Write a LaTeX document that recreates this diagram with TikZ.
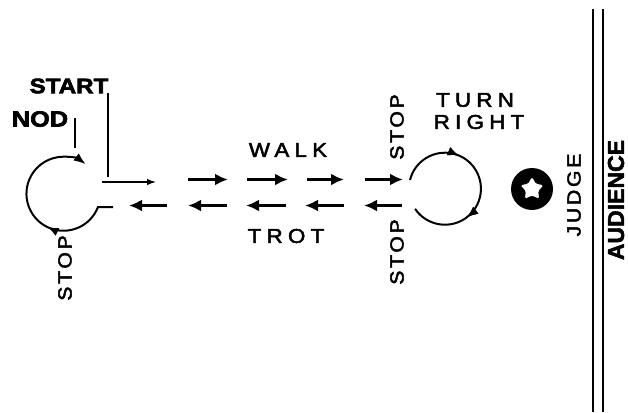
\documentclass[tikz,border=0pt]{standalone}
\usepackage{fontspec}
\setmainfont{Liberation Sans}
\newfontfamily\widefnt[FakeStretch=1.12,LetterSpace=26,FakeBold=2.5]{Liberation Sans}
\newfontfamily\vwidefnt[FakeStretch=1.12,LetterSpace=14,FakeBold=2.5]{Liberation Sans}
\newfontfamily\heavyfnt[FakeStretch=1.15,FakeBold=3]{Liberation Sans Bold}
\newfontfamily\heavyfntn[FakeBold=2]{Liberation Sans Bold}
\usetikzlibrary{arrows.meta,decorations.markings}
\begin{document}
\begin{tikzpicture}[x=1pt,y=-1pt,
  lbl/.style={inner sep=0pt, font=\fontsize{20}{20}\selectfont\widefnt},
  vlbl/.style={inner sep=0pt, rotate=90, font=\fontsize{19}{19}\selectfont\vwidefnt},
  boldlbl/.style={inner sep=0pt, font=\fontsize{21}{21}\selectfont\heavyfnt},
  thinline/.style={line width=1.2pt},
  bigarrow/.style={line width=3pt, -{Latex[length=13pt,width=12pt]}},
  smallarrow/.style={line width=1.3pt, -{Latex[length=9pt,width=6.5pt]}},
  loopline/.style={line width=2pt},
  midtip/.style={postaction={decorate}, decoration={markings,
     mark=at position #1 with {\arrow{Latex[length=11pt,width=9pt]}}}},
  wall/.style={line width=2.4pt},
]
\useasboundingbox (0,0) rectangle (628,412);

% texts
\node[boldlbl] (start) at (69,86) {START};
\node[boldlbl, font=\fontsize{22}{22}\selectfont\heavyfnt] (nod) at (40,119) {NOD};
\node[lbl] (walk) at (288,150) {WALK};
\node[lbl] (trot) at (286,236) {TROT};
\node[lbl] (turn) at (475,100) {TURN};
\node[lbl] (right) at (479,122) {RIGHT};
\node[vlbl] (stopl) at (65,268) {STOP};
\node[vlbl] (stopu) at (397,127) {STOP};
\node[vlbl] (stopd) at (397,252) {STOP};
\node[vlbl] (judgelbl) at (574,195) {JUDGE};
\node[inner sep=0pt, rotate=90, font=\fontsize{23}{23}\selectfont\heavyfntn] (aud) at (616,200) {AUDIENCE};

% leader lines
\coordinate (nodtop) at (75,118);
\coordinate (nodbot) at (75,148);
\draw[thinline] (nodtop) -- (nodbot);
\coordinate (starttop) at (108,93);
\coordinate (startbot) at (108,177);
\draw[thinline] (starttop) -- (startbot);

% first walk arrow (thin)
\coordinate (w0a) at (102,182);
\coordinate (w0b) at (156,182);
\draw[smallarrow] (w0a) -- (w0b);

% walk row
\foreach \a/\b [count=\i] in {188/228, 247/288, 307/344, 365/403} {
  \coordinate (wa\i) at (\a,179.5);
  \coordinate (wb\i) at (\b,179.5);
  \draw[bigarrow] (wa\i) -- (wb\i);
}
% trot row
\foreach \a/\b [count=\i] in {167/129, 227/188, 286/246, 344/305, 402/364} {
  \coordinate (ta\i) at (\a,205.5);
  \coordinate (tb\i) at (\b,205.5);
  \draw[bigarrow] (ta\i) -- (tb\i);
}

% left loop (nod / stop)
\coordinate (lentry) at (113,207);
\draw[loopline, -{Latex[length=12pt,width=9pt]}, midtip=76pt]
  (lentry) -- ++(-15,0) arc[start angle=21, end angle=307, radius=37];

% right loop (turn right)
\coordinate (rentry) at (410,180);
\draw[loopline, midtip=62pt, midtip=137pt]
  (rentry) arc[start angle=194, end angle=506, radius=36];

% judge
\node[circle, fill=black, inner sep=0pt, minimum size=42pt] (judge) at (532,189) {};
\begin{scope}[shift={(judge.center)}]
  \fill[white, rounded corners=1.5pt]
    (270:12) -- (306:6.5) -- (342:12) -- (18:6.5) -- (54:12) -- (90:6.5)
    -- (126:12) -- (162:6.5) -- (198:12) -- (234:6.5) -- cycle;
\end{scope}

% audience barrier
\coordinate (wl1t) at (593,9);
\coordinate (wl1b) at (593,412);
\coordinate (wl2t) at (603,9);
\coordinate (wl2b) at (603,412);
\draw[wall] (wl1t) -- (wl1b);
\draw[wall] (wl2t) -- (wl2b);
\end{tikzpicture}
\end{document}
